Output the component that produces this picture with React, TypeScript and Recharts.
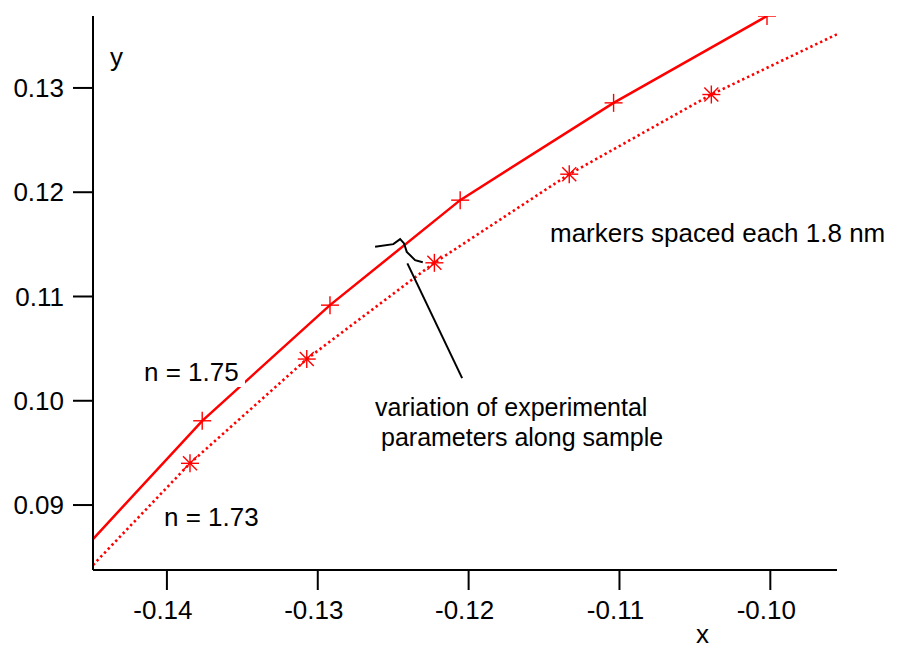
import React from 'react';
import { ComposedChart, Line, XAxis, YAxis } from 'recharts';

// n = 1.75 (solid), first point sits on the left axis
const solidX = [-0.1449, -0.13766, -0.12919, -0.12056, -0.11039, -0.10022];
const solidY = [0.08674, 0.09808, 0.10917, 0.11924, 0.12857, 0.1369];
const solidMark = [false, true, true, true, true, true];

// n = 1.73 (dotted), runs from axis to axis
const dotX = [-0.1449, -0.13847, -0.13073, -0.12227, -0.11333, -0.10391, -0.09558];
const dotY = [0.08425, 0.094, 0.104, 0.11323, 0.12173, 0.12937, 0.13515];
const dotMark = [false, true, true, true, true, true, false];

// hand drawn brace + pointer
const braceX = [-0.1262, -0.12499, -0.12454, -0.12428, -0.1241, -0.12355, -0.12304];
const braceY = [0.11476, 0.11502, 0.1155, 0.11509, 0.11428, 0.11349, 0.11329];
const pointerX = [-0.12406, -0.12043];
const pointerY = [0.11317, 0.10217];

const xTicks = [-0.14, -0.13, -0.12, -0.11, -0.1];
const yTicks = [0.09, 0.1, 0.11, 0.12, 0.13];

const font = '"Liberation Sans", Arial, sans-serif';
const red = '#ff0000';

const toRows = (xs: number[], ys: number[], marks?: boolean[]) =>
    xs.map((x, i) => ({ x, y: ys[i], mark: marks ? marks[i] : false }));

const PlusDot = (props: any) => {
    const { cx, cy, payload, index } = props;
    if (!payload || !payload.mark) return <g key={`p${index}`} />;
    const s = 9;
    return (
        <g key={`p${index}`} stroke={red} strokeWidth={1.4}>
            <line x1={cx - s} y1={cy} x2={cx + s} y2={cy} />
            <line x1={cx} y1={cy - s} x2={cx} y2={cy + s} />
        </g>
    );
};

const StarDot = (props: any) => {
    const { cx, cy, payload, index } = props;
    if (!payload || !payload.mark) return <g key={`s${index}`} />;
    const s = 9;
    const d = 7;
    return (
        <g key={`s${index}`} stroke={red} strokeWidth={1.4}>
            <line x1={cx - s} y1={cy} x2={cx + s} y2={cy} />
            <line x1={cx} y1={cy - s} x2={cx} y2={cy + s} />
            <line x1={cx - d} y1={cy - d} x2={cx + d} y2={cy + d} />
            <line x1={cx - d} y1={cy + d} x2={cx + d} y2={cy - d} />
        </g>
    );
};

export default function App() {
    const textStyle = { fontFamily: font, fontSize: 26, fill: '#000' };
    const noteStyle = { fontFamily: font, fontSize: 25, fill: '#000' };
    return (
        <div style={{ position: 'absolute', left: 0, top: 0, width: 899, height: 650, background: '#fff' }}>
            <ComposedChart width={899} height={650} margin={{ top: 16, right: 62, bottom: 20, left: 13 }}>
                <XAxis
                    type="number"
                    dataKey="x"
                    domain={[-0.1449, -0.09558]}
                    ticks={xTicks}
                    allowDataOverflow
                    height={60}
                    tickSize={20}
                    tickMargin={11}
                    tickFormatter={(v: number) => v.toFixed(2)}
                    axisLine={{ stroke: '#000', strokeWidth: 2 }}
                    tickLine={{ stroke: '#000', strokeWidth: 2 }}
                    tick={{ fill: '#000', fontSize: 26, fontFamily: font, dx: -4 }}
                />
                <YAxis
                    type="number"
                    dataKey="y"
                    domain={[0.08377, 0.1369]}
                    ticks={yTicks}
                    allowDataOverflow
                    width={80}
                    tickSize={20}
                    tickMargin={9}
                    tickFormatter={(v: number) => v.toFixed(2)}
                    axisLine={{ stroke: '#000', strokeWidth: 2 }}
                    tickLine={{ stroke: '#000', strokeWidth: 2 }}
                    tick={{ fill: '#000', fontSize: 26, fontFamily: font }}
                />
                <Line
                    data={toRows(solidX, solidY, solidMark)}
                    dataKey="y"
                    type="linear"
                    stroke={red}
                    strokeWidth={2.5}
                    dot={PlusDot}
                    activeDot={false}
                    isAnimationActive={false}
                />
                <Line
                    data={toRows(dotX, dotY, dotMark)}
                    dataKey="y"
                    type="linear"
                    stroke={red}
                    strokeWidth={2.6}
                    strokeDasharray="2.4 3"
                    dot={StarDot}
                    activeDot={false}
                    isAnimationActive={false}
                />
                <Line
                    data={toRows(braceX, braceY)}
                    dataKey="y"
                    type="linear"
                    stroke="#000"
                    strokeWidth={2}
                    dot={false}
                    activeDot={false}
                    isAnimationActive={false}
                />
                <Line
                    data={toRows(pointerX, pointerY)}
                    dataKey="y"
                    type="linear"
                    stroke="#000"
                    strokeWidth={2}
                    dot={false}
                    activeDot={false}
                    isAnimationActive={false}
                />
            </ComposedChart>
            <svg width={899} height={650} style={{ position: 'absolute', left: 0, top: 0, pointerEvents: 'none' }}>
                <rect x={142} y={359} width={103} height={28} fill="#fff" />
                <text x={144} y={381} style={textStyle}>n = 1.75</text>
                <text x={164} y={526} style={textStyle}>n = 1.73</text>
                <text x={550} y={242} style={textStyle}>markers spaced each 1.8 nm</text>
                <text x={375} y={416} style={noteStyle}>variation of experimental</text>
                <text x={381} y={446} style={noteStyle}>parameters along sample</text>
                <text x={110} y={66} style={textStyle}>y</text>
                <text x={696} y={643} style={textStyle}>x</text>
            </svg>
        </div>
    );
}
